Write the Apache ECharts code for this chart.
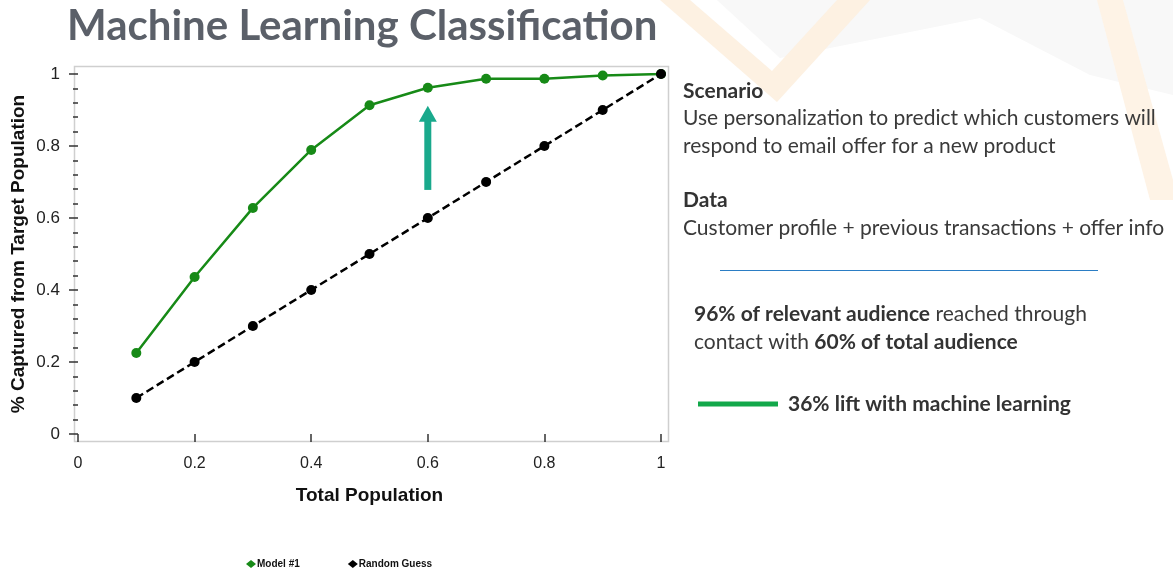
<!DOCTYPE html>
<html>
<head>
<meta charset="utf-8">
<script src="https://cdn.jsdelivr.net/npm/echarts@6/dist/echarts.min.js"></script>
<style>
html,body{margin:0;padding:0;background:#fff;}
#chart{width:1173px;height:577px;}
</style>
</head>
<body>
<div id="chart"></div>
<script>
// ---- data ----
const populationShare = [0.1, 0.2, 0.3, 0.4, 0.5, 0.6, 0.7, 0.8, 0.9, 1.0];
const modelCaptured = [0.225, 0.436, 0.628, 0.789, 0.913, 0.962, 0.987, 0.987, 0.996, 1.0];
const randomCaptured = [0.1, 0.2, 0.3, 0.4, 0.5, 0.6, 0.7, 0.8, 0.9, 1.0];
const seriesNames = ['Model #1', 'Random Guess'];
const liftArrow = [[0.6, 0.678, 0.912]]; // x, from, to

const chart = echarts.init(document.getElementById('chart'));

const pairs = (xs, ys) => xs.map((x, i) => [x, ys[i]]);
const bodyFont = 'Lato, "Open Sans", sans-serif';
const axisFont = '"Liberation Sans", Arial, sans-serif';

const option = {
  backgroundColor: '#ffffff',
  animation: false,
  grid: { left: 78, right: 512, top: 74, bottom: 143, containLabel: false },
  xAxis: {
    type: 'value', min: 0, max: 1, interval: 0.2,
    offset: 10,
    name: 'Total Population', nameLocation: 'middle', nameGap: 42,
    nameTextStyle: { fontFamily: axisFont, fontWeight: 'bold', fontSize: 19, color: '#111' },
    axisLine: { show: false },
    axisTick: { show: true, inside: false, length: 8, lineStyle: { color: '#333', width: 1.5 } },
    axisLabel: { margin: 12, fontFamily: axisFont, fontSize: 16, color: '#222',
      formatter: v => String(Math.round(v * 10) / 10) },
    splitLine: { show: false }
  },
  yAxis: {
    type: 'value', min: 0, max: 1, interval: 0.2,
    offset: 6,
    name: '% Captured from Target Population', nameLocation: 'middle', nameGap: 44,
    nameTextStyle: { fontFamily: axisFont, fontWeight: 'bold', fontSize: 19, color: '#111' },
    axisLine: { show: false },
    axisTick: { show: true, inside: false, length: 9, lineStyle: { color: '#333', width: 1.5 } },
    minorTick: { show: true, splitNumber: 5, length: 5, lineStyle: { color: '#333', width: 1.5 } },
    axisLabel: { margin: 12, fontFamily: axisFont, fontSize: 17, color: '#222',
      formatter: v => String(Math.round(v * 10) / 10) },
    splitLine: { show: false }
  },
  legend: {
    data: [
      { name: seriesNames[0], icon: 'diamond' },
      { name: seriesNames[1], icon: 'diamond' }
    ],
    left: 241, top: 554, itemWidth: 10, itemHeight: 8, itemGap: 48,
    textStyle: { fontFamily: axisFont, fontSize: 10, fontWeight: 'bold', color: '#111', padding: [0, 0, 0, -4] }
  },
  graphic: [
    // decorative background
    { type: 'polygon', z: -10, silent: true,
      shape: { points: [[717,0],[780,58],[980,18],[1090,75],[1173,95],[1173,0]] },
      style: { fill: '#f8f8f8' } },
    { type: 'polygon', z: -9, silent: true,
      shape: { points: [[660,0],[777,102],[870,0],[837,0],[772,71],[690,0]] },
      style: { fill: '#fdf1e2' } },
    { type: 'polygon', z: -9, silent: true,
      shape: { points: [[1097,0],[1123,0],[1173,180],[1173,200],[1150,200]] },
      style: { fill: '#fef3e6' } },
    // plot frame
    { type: 'rect', z: -1, silent: true,
      shape: { x: 74.5, y: 66.5, width: 594, height: 375 },
      style: { fill: '#ffffff', stroke: '#cfcfcf', lineWidth: 1.5 } },
    // title
    { type: 'text', left: 67, top: 5, z: 5, silent: true,
      style: { text: 'Machine Learning Classification',
        font: 'bold 42px ' + bodyFont, fill: '#5b6069' } },
    // right panel text
    { type: 'text', left: 683, top: 81, silent: true,
      style: { text: 'Scenario', font: 'bold 21px ' + bodyFont, fill: '#333' } },
    { type: 'text', left: 683, top: 104, silent: true,
      style: { text: 'Use personalization to predict which customers will\nrespond to email offer for a new product',
        font: '21px ' + bodyFont, fill: '#3a3a3a', lineHeight: 28 } },
    { type: 'text', left: 683, top: 190, silent: true,
      style: { text: 'Data', font: 'bold 21px ' + bodyFont, fill: '#333' } },
    { type: 'text', left: 683, top: 218, silent: true,
      style: { text: 'Customer profile + previous transactions + offer info',
        font: '21px ' + bodyFont, fill: '#3a3a3a' } },
    { type: 'line', silent: true,
      shape: { x1: 720, y1: 270.5, x2: 1098, y2: 270.5 },
      style: { stroke: '#2b7dc4', lineWidth: 1 } },
    { type: 'text', left: 694, top: 300, silent: true,
      style: { text: '{b|96% of relevant audience} reached through\ncontact with {b|60% of total audience}',
        font: '21px ' + bodyFont, fill: '#3a3a3a', lineHeight: 28,
        rich: { b: { fontWeight: 'bold', fontFamily: bodyFont, fontSize: 21, fill: '#333', lineHeight: 28 } } } },
    { type: 'rect', silent: true,
      shape: { x: 698, y: 401.5, width: 80, height: 5 },
      style: { fill: '#12a84a' } },
    { type: 'text', left: 788, top: 394, silent: true,
      style: { text: '36% lift with machine learning', font: 'bold 21px ' + bodyFont, fill: '#333' } }
  ],
  series: [
    {
      name: seriesNames[0], type: 'line', data: pairs(populationShare, modelCaptured),
      symbol: 'circle', symbolSize: 10, z: 3,
      itemStyle: { color: '#178a17' },
      lineStyle: { color: '#178a17', width: 2.5 }
    },
    {
      name: seriesNames[1], type: 'line', data: pairs(populationShare, randomCaptured),
      symbol: 'circle', symbolSize: 10, z: 3,
      itemStyle: { color: '#000' },
      lineStyle: { color: '#000', width: 2.5, type: [8, 4] }
    },
    {
      name: 'lift', type: 'custom', data: liftArrow, z: 4, silent: true,
      renderItem: (params, api) => {
        const x = api.value(0);
        const p0 = api.coord([x, api.value(1)]);
        const p1 = api.coord([x, api.value(2)]);
        const headH = 16, headW = 18, shaftW = 7;
        return {
          type: 'group',
          children: [
            { type: 'rect', shape: { x: p0[0] - shaftW / 2, y: p1[1] + headH - 1, width: shaftW, height: p0[1] - p1[1] - headH + 1 },
              style: { fill: '#19a98c' } },
            { type: 'polygon', shape: { points: [[p1[0], p1[1]], [p1[0] - headW / 2, p1[1] + headH], [p1[0] + headW / 2, p1[1] + headH]] },
              style: { fill: '#19a98c' } }
          ]
        };
      }
    }
  ]
};
chart.setOption(option);
</script>
</body>
</html>
